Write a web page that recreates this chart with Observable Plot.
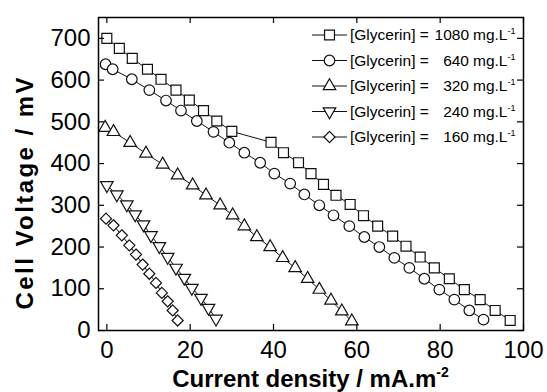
<!DOCTYPE html>
<html><head><meta charset="utf-8">
<script src="https://cdn.jsdelivr.net/npm/d3@7"></script>
<script src="https://cdn.jsdelivr.net/npm/@observablehq/plot@0.6"></script>
<style>
body{margin:0;background:#fff;}
#chart{width:547px;height:392px;}
</style></head><body><div id="chart"></div>
<script>
const concentrations = ["1080", "640", "320", "240", "160"];
const xTicks = [0, 20, 40, 60, 80, 100];
const yTicks = [0, 100, 200, 300, 400, 500, 600, 700];

const x1080 = [0, 3, 6.1, 9.75, 13, 16.6, 19.8, 23.2, 26.4, 30, 39.4, 42.4, 46, 49, 52, 55, 58.4, 61.6, 65, 68.6, 71.8, 75.2, 78.6, 82.2, 85.8, 89.6, 93.2, 96.8];
const y1080 = [700, 676, 652, 626, 602, 576, 552, 527, 502, 477, 451, 426, 402, 376, 350, 324, 302, 275, 250, 226, 202, 176, 150, 124, 98, 74, 48, 24];
const x640 = [-0.3, 1.4, 6, 10.2, 14.2, 17.8, 21.6, 25.6, 29.4, 33, 36.8, 40.2, 44, 47.4, 51, 54.4, 58.2, 61.8, 65.4, 69, 72.6, 76.2, 79.8, 83.4, 87, 90.4];
const y640 = [638, 626, 602, 576, 551, 527, 502, 476, 450, 426, 402, 376, 352, 326, 300, 276, 250, 224, 200, 174, 150, 124, 98, 74, 48, 26];
const x320 = [-0.4, 1.6, 5.6, 9.4, 13.4, 17, 20.6, 23.8, 27.2, 30.2, 33, 36, 39.2, 42.2, 45.2, 48.2, 51, 53.8, 56.4, 58.8];
const y320 = [486, 476, 450, 424, 398, 372, 348, 324, 300, 276, 250, 224, 200, 174, 150, 124, 98, 72, 46, 22];
const x240 = [0, 2.4, 4.8, 6.8, 8.8, 10.6, 12.6, 14.6, 16.6, 18.6, 20.4, 22.6, 24.4, 26.2];
const y240 = [348, 326, 302, 278, 254, 228, 202, 176, 150, 126, 102, 78, 54, 28];
const x160 = [-0.2, 1.6, 3.6, 5.4, 7, 8.6, 10.2, 11.8, 13.2, 14.6, 15.8, 17];
const y160 = [268, 252, 228, 204, 182, 158, 136, 114, 90, 70, 48, 24];

const seriesX = [x1080, x640, x320, x240, x160];
const seriesY = [y1080, y640, y320, y240, y160];

const downTriangle = {
  draw(context, size) {
    const k = Math.sqrt(size) * 0.6824, t = k / 2, u = k * Math.sqrt(3) / 2;
    context.moveTo(0, k); context.lineTo(-u, -t); context.lineTo(u, -t); context.closePath();
  }
};
const plotSymbols = ["square", "circle", "triangle2", downTriangle, "diamond2"];
const d3Symbols = [d3.symbolSquare, d3.symbolCircle, d3.symbolTriangle2, downTriangle, d3.symbolDiamond2];
const radii = [5.6, 5.3, 6.0, 6.0, 5.0];

const rows = [];
concentrations.forEach((c, i) => seriesX[i].forEach((x, j) => rows.push({series: c, x, y: seriesY[i][j]})));

const W = 547, H = 392, mL = 98, mR = 24, mT = 17, mB = 62;
const innerW = W - mL - mR, innerH = H - mT - mB, tk = 6;

const marks = [
  Plot.line(rows, {x: "x", y: "y", z: "series", stroke: "#111", strokeWidth: 1}),
  ...concentrations.map((c, i) => Plot.dot(rows.filter(d => d.series === c), {
    x: "x", y: "y", symbol: plotSymbols[i], r: radii[i], fill: "white", stroke: "#111", strokeWidth: 1.2
  })),
  Plot.ruleX(xTicks, {x: d => d, insetTop: innerH - tk, stroke: "black", strokeWidth: 1.2}),
  Plot.ruleX(xTicks, {x: d => d, insetBottom: innerH - tk, stroke: "black", strokeWidth: 1.2}),
  Plot.ruleY(yTicks, {y: d => d, insetRight: innerW - tk, stroke: "black", strokeWidth: 1.2}),
  Plot.ruleY(yTicks, {y: d => d, insetLeft: innerW - tk, stroke: "black", strokeWidth: 1.2}),
  Plot.frame({stroke: "black", strokeWidth: 1.5})
];

const svg = Plot.plot({
  width: W, height: H,
  marginLeft: mL, marginRight: mR, marginTop: mT, marginBottom: mB,
  style: {fontFamily: "'Liberation Sans', Arial, sans-serif", fontSize: "24px", color: "black", background: "white"},
  x: {domain: [-2, 100], ticks: xTicks, tickSize: 0, tickPadding: 10, label: null},
  y: {domain: [0, 750], ticks: yTicks, tickSize: 0, tickPadding: 8, label: null},
  marks
});
document.getElementById("chart").appendChild(svg);

const s = d3.select(svg);
const ff = "'Liberation Sans', Arial, sans-serif";

// axis titles
const xt = s.append("text").attr("x", 310.5).attr("y", 387).attr("text-anchor", "middle")
  .attr("font-family", ff).attr("font-weight", "bold").attr("font-size", 24).attr("fill", "black");
xt.append("tspan").text("Current density / mA.m");
xt.append("tspan").attr("dy", -10).attr("font-size", 14).text("-2");

s.append("text").attr("transform", "translate(33,193.5) rotate(-90)").attr("text-anchor", "middle")
  .attr("font-family", ff).attr("font-weight", "bold").attr("font-size", 24).attr("fill", "black")
  .attr("textLength", 232).attr("lengthAdjust", "spacing")
  .text("Cell Voltage / mV");

// legend
const rowY = [35, 60.5, 86, 111.5, 137];
const lg = s.append("g").attr("font-family", ff).attr("font-size", 15.5).attr("fill", "black").attr("text-anchor", "start");
concentrations.forEach((c, i) => {
  const y = rowY[i];
  lg.append("line").attr("x1", 312).attr("x2", 347).attr("y1", y).attr("y2", y).attr("stroke", "#111").attr("stroke-width", 1);
  lg.append("path").attr("transform", `translate(329.5,${y})`)
    .attr("d", d3.symbol(d3Symbols[i], Math.PI * radii[i] * radii[i])())
    .attr("fill", "white").attr("stroke", "#111").attr("stroke-width", 1.2);
  lg.append("text").attr("x", 350).attr("y", y).attr("dy", "0.35em").attr("text-anchor", "start").text("[Glycerin] =");
  lg.append("text").attr("x", 469).attr("y", y).attr("dy", "0.35em").attr("text-anchor", "end").text(c);
  const t = lg.append("text").attr("x", 473).attr("y", y).attr("dy", "0.35em").attr("text-anchor", "start");
  t.append("tspan").text("mg.L");
  t.append("tspan").attr("dy", -6).attr("font-size", 9).text("-1");
});
</script></body></html>
